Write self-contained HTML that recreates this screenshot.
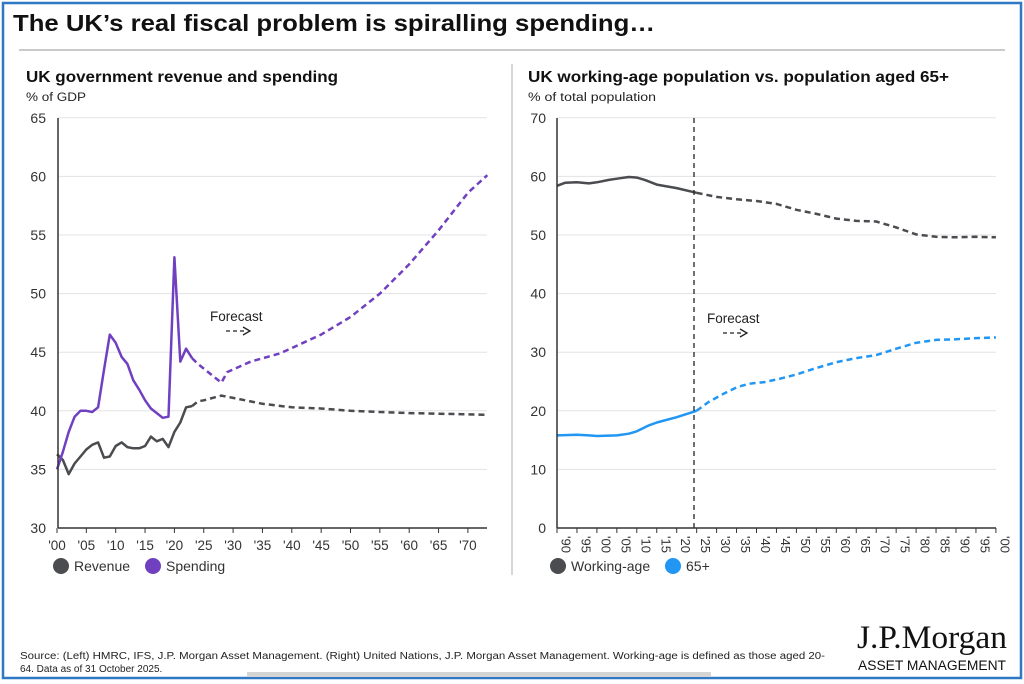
<!DOCTYPE html>
<html><head><meta charset="utf-8"><style>
body{margin:0;width:1024px;height:684px;background:#fff;overflow:hidden;font-family:"Liberation Sans",sans-serif}
svg{position:absolute;left:0;top:0}
</style></head><body>
<svg id="s" width="1024" height="684" xmlns="http://www.w3.org/2000/svg" font-family="Liberation Sans, sans-serif">
<rect x="3" y="3" width="1018" height="675" fill="none" stroke="#2f78c4" stroke-width="2.5"/>
<text x="13" y="31" font-size="23" font-weight="bold" fill="#111" textLength="642" lengthAdjust="spacingAndGlyphs">The UK’s real fiscal problem is spiralling spending…</text>
<line x1="19" y1="50" x2="1005" y2="50" stroke="#aaa" stroke-width="1.2"/>
<line x1="512" y1="64" x2="512" y2="575" stroke="#bbb" stroke-width="1.2"/>
<text x="26" y="82" font-size="15.5" font-weight="bold" fill="#111" textLength="312" lengthAdjust="spacingAndGlyphs">UK government revenue and spending</text>
<text x="26" y="101" font-size="11.5" fill="#222" textLength="60" lengthAdjust="spacingAndGlyphs">% of GDP</text>
<text x="528" y="82" font-size="15.5" font-weight="bold" fill="#111" textLength="421" lengthAdjust="spacingAndGlyphs">UK working-age population vs. population aged 65+</text>
<text x="528" y="101" font-size="11.5" fill="#222" textLength="128" lengthAdjust="spacingAndGlyphs">% of total population</text>
<g id="g"></g>
<text x="20" y="659" font-size="10" fill="#222" textLength="805" lengthAdjust="spacingAndGlyphs">Source: (Left) HMRC, IFS, J.P. Morgan Asset Management. (Right) United Nations, J.P. Morgan Asset Management. Working-age is defined as those aged 20-</text>
<text x="20" y="672" font-size="10" fill="#222">64. Data as of 31 October 2025.</text>
<rect x="247" y="672" width="464" height="5" fill="#d4d4d4"/>
<text x="857" y="648" font-size="33" font-family="Liberation Serif, serif" fill="#111" textLength="150" lengthAdjust="spacingAndGlyphs">J.P.Morgan</text>
<text x="858" y="670" font-size="13.5" fill="#111" textLength="148" lengthAdjust="spacingAndGlyphs">ASSET MANAGEMENT</text>
</svg>
<script>
var g=document.getElementById('g'),h='';
function P(pts,fx,fy){return pts.map(function(p){return fx(p[0]).toFixed(1)+','+fy(p[1]).toFixed(1)}).join(' ')}
function line(pts,fx,fy,c,dash){h+='<polyline points="'+P(pts,fx,fy)+'" fill="none" stroke="'+c+'" stroke-width="2.5" stroke-linejoin="round"'+(dash?' stroke-dasharray="6,4"':'')+'/>'}
var lx=function(y){return 57+(y-2000)*5.87},ly=function(v){return 528-(v-30)*11.72};
for(var v=30;v<=65;v+=5){var yy=ly(v);if(v>30)h+='<line x1="58" y1="'+yy+'" x2="487" y2="'+yy+'" stroke="#e3e3e3"/>';h+='<text x="46" y="'+(yy+5)+'" font-size="14" text-anchor="end" fill="#333">'+v+'</text>'}
for(var y=2000;y<=2070;y+=5){var xx=lx(y);h+='<line x1="'+xx+'" y1="528" x2="'+xx+'" y2="533" stroke="#333"/><text x="'+xx+'" y="550" font-size="13.5" text-anchor="middle" fill="#333">\''+String(y%100).padStart(2,'0')+'</text>'}
var rev=[[2000,36.3],[2001,35.8],[2002,34.6],[2003,35.5],[2004,36.1],[2005,36.7],[2006,37.1],[2007,37.3],[2008,36.0],[2009,36.1],[2010,37.0],[2011,37.3],[2012,36.9],[2013,36.8],[2014,36.8],[2015,37.0],[2016,37.8],[2017,37.4],[2018,37.6],[2019,36.9],[2020,38.2],[2021,39.0],[2022,40.3],[2023,40.4]];
var revf=[[2023,40.4],[2024,40.8],[2025,40.9],[2028,41.3],[2030,41.1],[2035,40.6],[2040,40.3],[2045,40.2],[2050,40.0],[2055,39.9],[2060,39.8],[2065,39.75],[2070,39.7],[2073.3,39.65]];
var sp=[[2000,35.0],[2001,36.5],[2002,38.2],[2003,39.5],[2004,40.0],[2005,40.0],[2006,39.9],[2007,40.3],[2008,43.5],[2009,46.5],[2010,45.8],[2011,44.6],[2012,44.0],[2013,42.6],[2014,41.8],[2015,40.9],[2016,40.2],[2017,39.8],[2018,39.4],[2019,39.5],[2020,53.1],[2021,44.2],[2022,45.3],[2023,44.5]];
var spf=[[2023,44.5],[2024,44.0],[2028,42.4],[2029,43.3],[2033,44.2],[2038,44.9],[2045,46.5],[2050,48.0],[2055,50.0],[2060,52.5],[2065,55.4],[2070,58.6],[2073.3,60.1]];
line(rev,lx,ly,'#4a4c4f');line(revf,lx,ly,'#4a4c4f',1);line(sp,lx,ly,'#7040c0');line(spf,lx,ly,'#7040c0',1);
h+='<line x1="58" y1="118" x2="58" y2="528" stroke="#333" stroke-width="1.5"/><line x1="58" y1="528" x2="487" y2="528" stroke="#333" stroke-width="1.5"/>';
h+='<text x="210" y="321" font-size="13.5" fill="#222">Forecast</text><line x1="226" y1="331" x2="245" y2="331" stroke="#222" stroke-width="1.3" stroke-dasharray="4,3"/><polyline points="243,327 250,331 243,335" fill="none" stroke="#222" stroke-width="1.3"/>';
h+='<circle cx="61" cy="566" r="8" fill="#4a4c4f"/><text x="74" y="571" font-size="14" fill="#333">Revenue</text><circle cx="153" cy="566" r="8" fill="#7040c0"/><text x="166" y="571" font-size="14" fill="#333">Spending</text>';
var rx=function(y){return 557+(y-1990)*3.99},ry=function(v){return 528-v*5.86};
for(var v=0;v<=70;v+=10){var yy=ry(v);if(v>0)h+='<line x1="557" y1="'+yy+'" x2="996" y2="'+yy+'" stroke="#e3e3e3"/>';h+='<text x="546" y="'+(yy+5)+'" font-size="14" text-anchor="end" fill="#333">'+v+'</text>'}
for(var y=1990;y<=2100;y+=5){var xx=rx(y);h+='<line x1="'+xx+'" y1="528" x2="'+xx+'" y2="533" stroke="#333"/><text transform="translate('+(xx+4.5)+',536) rotate(90)" font-size="13" fill="#333">\''+String(y%100).padStart(2,'0')+'</text>'}
var wa=[[1990,58.4],[1992,58.9],[1995,59.0],[1998,58.8],[2000,59.0],[2003,59.4],[2005,59.6],[2008,59.9],[2010,59.8],[2012,59.4],[2015,58.6],[2020,58.0],[2025,57.2]];
var waf=[[2025,57.2],[2030,56.5],[2035,56.1],[2040,55.8],[2045,55.3],[2050,54.3],[2055,53.6],[2060,52.8],[2065,52.4],[2070,52.3],[2075,51.3],[2080,50.1],[2085,49.7],[2090,49.6],[2095,49.7],[2100,49.6]];
var o=[[1990,15.8],[1995,15.9],[1998,15.8],[2000,15.7],[2005,15.8],[2008,16.1],[2010,16.5],[2013,17.5],[2015,18.0],[2020,18.9],[2025,20.0]];
var of=[[2025,20.0],[2028,21.5],[2032,23.0],[2035,24.0],[2038,24.6],[2042,24.9],[2046,25.5],[2050,26.2],[2055,27.3],[2060,28.3],[2065,29.0],[2070,29.5],[2075,30.6],[2080,31.6],[2085,32.1],[2090,32.2],[2095,32.4],[2100,32.5]];
line(wa,rx,ry,'#4a4c4f');line(waf,rx,ry,'#4a4c4f',1);line(o,rx,ry,'#2196f3');line(of,rx,ry,'#2196f3',1);
h+='<line x1="694" y1="118" x2="694" y2="528" stroke="#222" stroke-width="1.3" stroke-dasharray="5,4"/>';
h+='<line x1="557" y1="118" x2="557" y2="528" stroke="#333" stroke-width="1.5"/><line x1="557" y1="528" x2="996" y2="528" stroke="#333" stroke-width="1.5"/>';
h+='<text x="707" y="323" font-size="13.5" fill="#222">Forecast</text><line x1="723" y1="333" x2="742" y2="333" stroke="#222" stroke-width="1.3" stroke-dasharray="4,3"/><polyline points="740,329 747,333 740,337" fill="none" stroke="#222" stroke-width="1.3"/>';
h+='<circle cx="558" cy="566" r="8" fill="#4a4c4f"/><text x="571" y="571" font-size="14" fill="#333">Working-age</text><circle cx="673" cy="566" r="8" fill="#2196f3"/><text x="686" y="571" font-size="14" fill="#333">65+</text>';
g.innerHTML=h;
</script>
</body></html>
